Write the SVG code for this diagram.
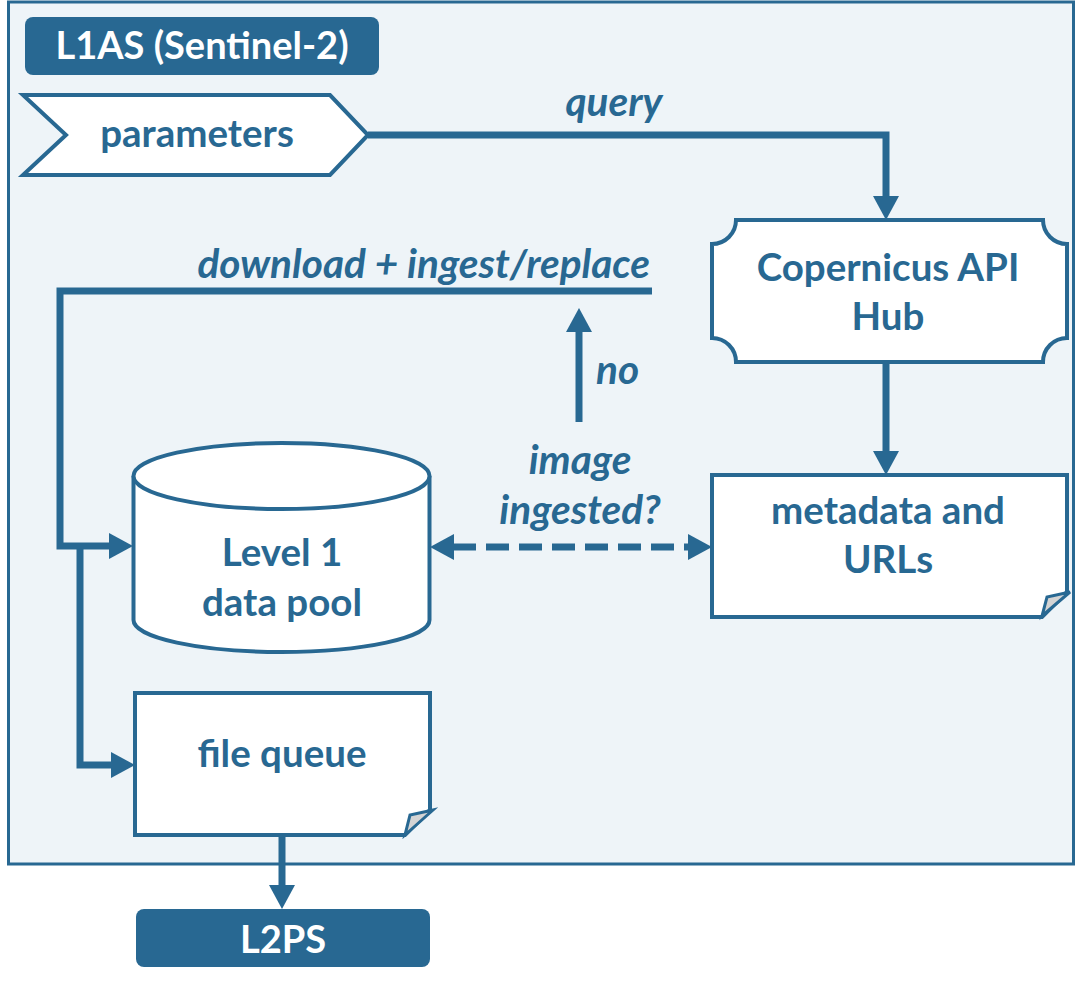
<svg xmlns="http://www.w3.org/2000/svg" width="1078" height="983" viewBox="0 0 1078 983">
<style>
.node{fill:#ffffff;stroke:#286892;stroke-width:4;stroke-linejoin:miter}
.fold{fill:#d4d4d4;stroke:#286892;stroke-width:3;stroke-linejoin:miter}
.hdr{fill:#286892}
.t{font-family:Lato,"Open Sans",sans-serif;font-weight:700;font-size:38.5px;fill:#286892;text-anchor:middle}
.tw{font-family:Lato,"Open Sans",sans-serif;font-weight:700;font-size:38px;fill:#ffffff;text-anchor:middle}
.lbl{font-family:Lato,"Open Sans",sans-serif;font-weight:700;font-style:italic;font-size:40.5px;fill:#286892}
.c{fill:none;stroke:#286892;stroke-width:7;stroke-linejoin:miter}
</style>
<defs>
<marker id="ah" markerUnits="userSpaceOnUse" markerWidth="24" markerHeight="26" viewBox="0 0 24 26" refX="1" refY="13" orient="auto-start-reverse">
<path d="M0,0 L24,13 L0,26 Z" fill="#286892"/>
</marker>
</defs>
<rect id="container" x="8.5" y="2" width="1065" height="862" fill="#eef4f8" stroke="#286892" stroke-width="3"/>
<g id="title">
<rect class="hdr" x="25" y="17" width="354" height="58" rx="8"/>
<text class="tw" x="202" y="59">L1AS (Sentinel-2)</text>
</g>
<g id="parameters">
<polygon class="node" points="23,95 330,95 368,135 330,175 23,175 66,135"/>
<text class="t" x="197" y="147">parameters</text>
</g>
<g id="copernicus">
<path class="node" d="M736,220 H1043 A24,24 0 0 0 1067,244 V338 A24,24 0 0 0 1043,362 H736 A24,24 0 0 0 712,338 V244 A24,24 0 0 0 736,220 Z"/>
<text class="t" x="888" y="281">Copernicus API</text>
<text class="t" x="888" y="330">Hub</text>
</g>
<g id="metadata">
<path class="node" d="M712,475 H1067 V592 L1042,617 H712 Z"/>
<polygon class="fold" points="1070,592 1047,597 1042,616"/>
<text class="t" x="888" y="524">metadata and</text>
<text class="t" x="888" y="573">URLs</text>
</g>
<g id="datapool">
<path class="node" d="M133.5,476 V620 A148,32 0 0 0 429.5,620 V476"/>
<ellipse class="node" cx="281.5" cy="476" rx="148" ry="33"/>
<text class="t" x="282" y="566">Level 1</text>
<text class="t" x="282" y="616">data pool</text>
</g>
<g id="filequeue">
<path class="node" d="M135,693 H430 V810 L405,835 H135 Z"/>
<polygon class="fold" points="433,810 410,815 405,835"/>
<text class="t" x="282" y="767">file queue</text>
</g>
<g id="l2ps">
<rect class="hdr" x="136" y="909" width="294" height="58" rx="8"/>
<text class="tw" x="283" y="953">L2PS</text>
</g>
<g id="connectors">
<path class="c" d="M368,135 H886 V197" marker-end="url(#ah)"/>
<path class="c" d="M886,362 V452" marker-end="url(#ah)"/>
<path class="c" d="M579,422 V331" marker-end="url(#ah)"/>
<path class="c" d="M652,291 H60 V546 H110" marker-end="url(#ah)"/>
<path class="c" d="M80,546 V765 H112" marker-end="url(#ah)"/>
<path class="c" d="M453,547 H689" stroke-dasharray="23 10" marker-start="url(#ah)" marker-end="url(#ah)"/>
<path class="c" d="M282,835 V886" marker-end="url(#ah)"/>
<text class="lbl" x="614" y="116" text-anchor="middle">query</text>
<text class="lbl" x="650" y="278" text-anchor="end">download + ingest/replace</text>
<text class="lbl" x="596" y="384">no</text>
<text class="lbl" x="580" y="474" text-anchor="middle">image</text>
<text class="lbl" x="580" y="524" text-anchor="middle">ingested?</text>
</g>
</svg>
